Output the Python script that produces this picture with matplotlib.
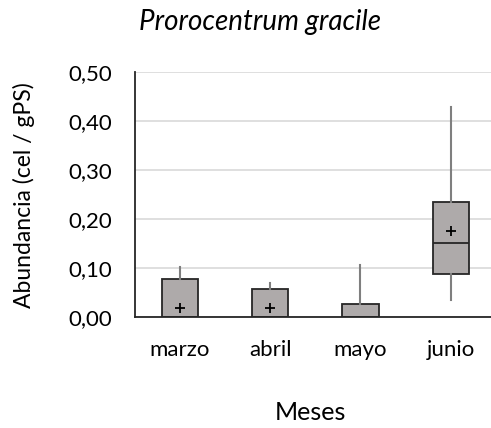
import matplotlib

matplotlib.use("Agg")
import matplotlib.pyplot as plt
from matplotlib.ticker import FuncFormatter

months = ["marzo", "abril", "mayo", "junio"]
q1 = [0.0, 0.0, 0.0, 0.089]
median = [0.0, 0.0, 0.0, 0.151]
q3 = [0.079, 0.058, 0.027, 0.236]
whis_lo = [0.0, 0.0, 0.0, 0.035]
whis_hi = [0.102, 0.070, 0.107, 0.428]
means = [0.020, 0.020, None, 0.176]

plt.rcParams.update({
    "font.family": ["Lato", "DejaVu Sans"],
    "font.size": 16,
})

fig = plt.figure(figsize=(4.91, 4.28), dpi=100)
ax = fig.add_axes([0.2743, 0.2586, 0.7358, 0.5731])

stats = []
for i, m in enumerate(months):
    stats.append({
        "label": m, "q1": q1[i], "med": median[i], "q3": q3[i],
        "whislo": whis_lo[i], "whishi": whis_hi[i], "fliers": [],
    })

pos = list(range(len(months)))
ax.bxp(
    stats, positions=pos, widths=0.4, patch_artist=True, showcaps=False,
    showfliers=False,
    boxprops=dict(facecolor="#aeaaaa", edgecolor="#262626", linewidth=1.3),
    medianprops=dict(color="#262626", linewidth=1.3),
    whiskerprops=dict(color="#7f7f7f", linewidth=1.5),
)
for i, mv in enumerate(means):
    if mv is not None:
        ax.plot(pos[i], mv, marker="+", color="black", ms=7, mew=1.3, zorder=5)

ax.set_xlim(-0.5, 3.5)
ax.set_ylim(0, 0.5)
ax.set_yticks([0, 0.1, 0.2, 0.3, 0.4, 0.5])
ax.yaxis.set_major_formatter(FuncFormatter(lambda v, _: f"{v:.2f}".replace(".", ",")))
ax.set_xticks(pos)
ax.set_xticklabels(months)
ax.tick_params(axis="y", length=0, pad=16)
ax.tick_params(axis="x", length=0, pad=16)
ax.grid(axis="y", color="#d9d9d9", lw=1.2)
ax.set_axisbelow(True)
for s in ["top", "right"]:
    ax.spines[s].set_visible(False)
for s in ["left", "bottom"]:
    ax.spines[s].set_color("#262626")
    ax.spines[s].set_linewidth(1.3)

ax.set_ylabel("Abundancia (cel / gPS)", fontsize=16.5)
ax.yaxis.set_label_coords(-0.275, 0.5)
fig.text(310 / 491, 1 - 412 / 428, "Meses", ha="center", va="center", fontsize=18)
fig.text(260 / 491, 1 - 22 / 428, "Prorocentrum gracile", ha="center", va="center",
         fontsize=20, style="italic")

fig.savefig("out.png", dpi=100)
